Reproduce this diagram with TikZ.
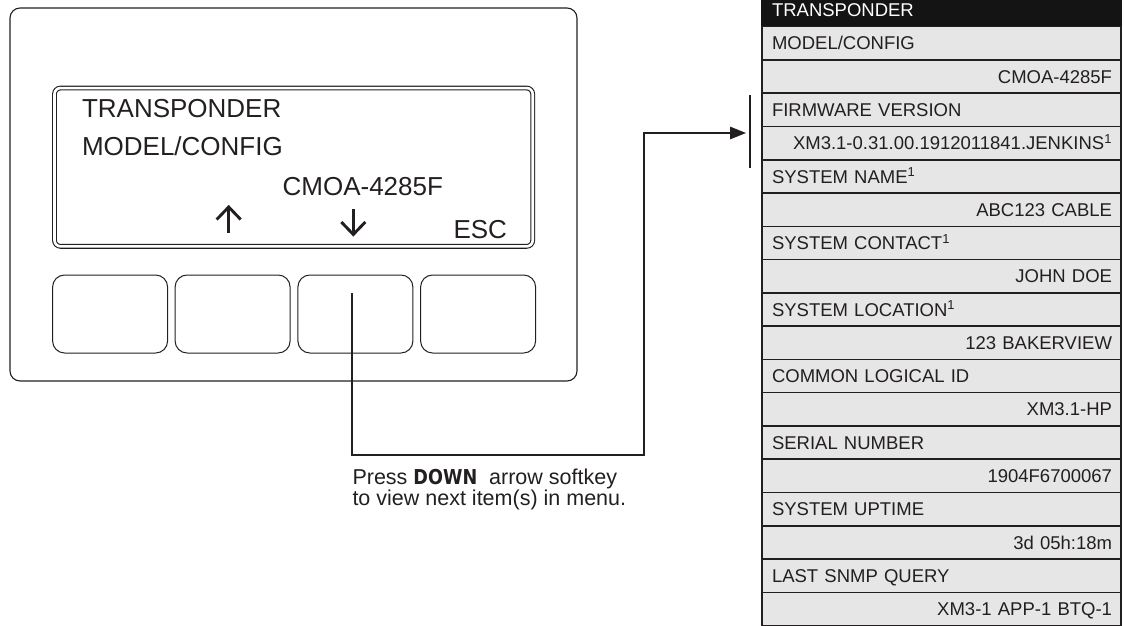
\documentclass[tikz,border=0pt]{standalone}
\usepackage{fontspec}
\setmainfont{Liberation Sans}
\newfontfamily\heavyfont{DejaVu Sans}[FakeStretch=0.86]
\usetikzlibrary{arrows.meta}
\definecolor{ink}{HTML}{231F20}
\definecolor{rowgray}{HTML}{E6E6E7}
\begin{document}
\begin{tikzpicture}[x=1pt,y=-1pt,
  every node/.style={inner sep=0pt, outer sep=0pt, text=ink},
  devbox/.style={draw=ink, line width=1.1pt, rounded corners=10pt, minimum width=567pt, minimum height=373pt},
  screenbox/.style={draw=ink, double=white, line width=1.1pt, double distance=2.6pt, rounded corners=6pt, minimum width=478.2pt, minimum height=158.3pt},
  keybox/.style={draw=ink, line width=1pt, rounded corners=12pt, minimum width=115pt, minimum height=78pt},
  lcd/.style={font=\fontsize{26}{30}\selectfont},
  glyph/.style={draw=ink, line width=2.9pt},
  conn/.style={draw=ink, line width=1.2pt},
  helptxt/.style={font=\fontsize{21.5}{24}\selectfont},
  rowbase/.style={draw=ink, fill=rowgray, line width=1.5pt, minimum width=359pt, minimum height=33.27pt,
     font=\fontsize{18.5}{20}\selectfont, text height=13.3pt, text depth=0pt},
  rowL/.style={rowbase, text width=339pt, align=left},
  rowR/.style={rowbase, text width=341pt, align=right},
  rowhead/.style={rowbase, fill=black!92, draw=black!92, text=white, text width=339pt, align=left}
]
\useasboundingbox (0,0) rectangle (1124,626);

% device
\node[devbox, anchor=north west] (device) at (10,8) {};
\node[screenbox] (screen) at (293.6,167.2) {};
\node[keybox] (btn1) at (110.1,314) {};
\node[keybox] (btn2) at (232.6,314) {};
\node[keybox] (btn3) at (355.4,314) {};
\node[keybox] (btn4) at (478.1,314) {};

% screen text
\node[lcd, anchor=base west] (l1) at (82,117) {TRANSPONDER};
\node[lcd, anchor=base west] (l2) at (82,155) {MODEL/CONFIG};
\node[lcd, anchor=base east] (l3) at (443,195) {CMOA-4285F};
\node[lcd, anchor=base east] (esc) at (507,238) {ESC};

% up / down glyphs
\draw[glyph] (228.7,232.5) -- (228.7,207);
\draw[glyph, line join=miter] (216.7,219.5) -- (228.7,207) -- (240.7,219.5);
\draw[glyph] (353.3,209) -- (353.3,234.5);
\draw[glyph, line join=miter] (341.3,222) -- (353.3,234.5) -- (365.3,222);

% connector
\coordinate (press) at (352,293);
\coordinate (turnA) at (352,455);
\coordinate (turnB) at (644,455);
\coordinate (turnC) at (644,133);
\coordinate (tip) at (746,133);
\draw[conn, -{Triangle[length=16pt,width=12.5pt]}] (press) -- (turnA) -- (turnB) -- (turnC) -- (tip);
\coordinate (bartop) at (749.5,95);
\coordinate (barbot) at (749.5,168);
\draw[draw=ink, line width=2pt] (bartop) -- (barbot);

% help text
\node[helptxt, anchor=base west] (help1) at (352.5,484) {Press {\heavyfont\bfseries\fontsize{20.5}{22}\selectfont DOWN}\ \ arrow softkey};
\node[helptxt, anchor=base west] (help2) at (352.5,505) {to view next item(s) in menu.};

% menu panel
\node[rowhead] (r0) at (941.5,10.07) {TRANSPONDER};
\node[rowL] (r1) at (941.5,43.34) {MODEL/CONFIG};
\node[rowR] (r2) at (941.5,76.61) {CMOA-4285F};
\node[rowL] (r3) at (941.5,109.88) {FIRMWARE VERSION};
\node[rowR] (r4) at (941.5,143.15) {XM3.1-0.31.00.1912011841.JENKINS\textsuperscript{1}};
\node[rowL] (r5) at (941.5,176.42) {SYSTEM NAME\textsuperscript{1}};
\node[rowR] (r6) at (941.5,209.69) {ABC123 CABLE};
\node[rowL] (r7) at (941.5,242.96) {SYSTEM CONTACT\textsuperscript{1}};
\node[rowR] (r8) at (941.5,276.23) {JOHN DOE};
\node[rowL] (r9) at (941.5,309.50) {SYSTEM LOCATION\textsuperscript{1}};
\node[rowR] (r10) at (941.5,342.77) {123 BAKERVIEW};
\node[rowL] (r11) at (941.5,376.04) {COMMON LOGICAL ID};
\node[rowR] (r12) at (941.5,409.31) {XM3.1-HP};
\node[rowL] (r13) at (941.5,442.58) {SERIAL NUMBER};
\node[rowR] (r14) at (941.5,475.85) {1904F6700067};
\node[rowL] (r15) at (941.5,509.12) {SYSTEM UPTIME};
\node[rowR] (r16) at (941.5,542.39) {3d 05h:18m};
\node[rowL] (r17) at (941.5,575.66) {LAST SNMP QUERY};
\node[rowR] (r18) at (941.5,608.93) {XM3-1 APP-1 BTQ-1};
\end{tikzpicture}
\end{document}
